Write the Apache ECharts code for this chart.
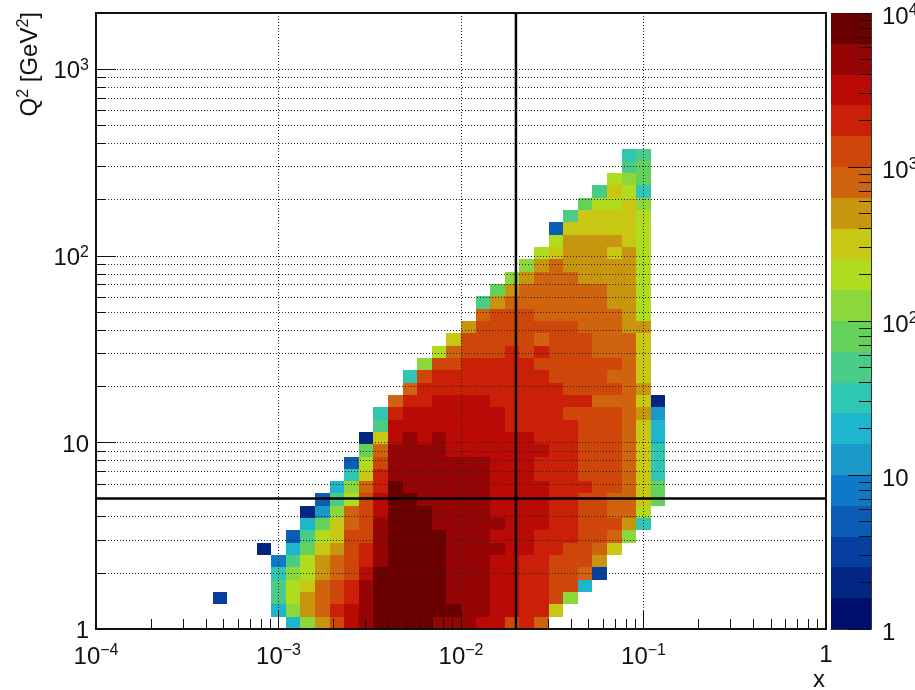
<!DOCTYPE html>
<html>
<head>
<meta charset="utf-8">
<style>html,body{margin:0;padding:0;background:#fff}#c{width:915px;height:690px}</style>
<script src="https://cdn.jsdelivr.net/npm/echarts@6/dist/echarts.min.js"></script>
</head>
<body>
<div id="c"></div>
<script>
// Histogram binning (50 x 50 log-spaced bins)
const xMin = 1e-4, xMax = 1, yMin = 1, yMax = 2000, nBins = 50;

// First occupied x bin of each Q2 row, bottom row first
const rowStart = [13,12,8,12,12,12,11,13,14,14,15,16,17,17,18,18,19,19,20,21,21,22,23,24,25,26,26,27,28,29,30,31,31,32,33,34,35,36,36];

// Counts per x bin, one list per Q2 row (null = empty bin)
const row00 = [20,126,501,1259,3162,5012,7943,7943,7943,7943,5012,5012,5012,3162,3162,1259,1995,794];
const row01 = [20,126,501,794,1995,3162,5012,7943,7943,7943,7943,7943,7943,5012,5012,3162,3162,1995,1995,316];
const row02 = [3,null,null,null,50,200,501,794,1259,1995,5012,7943,7943,7943,7943,7943,5012,5012,5012,3162,3162,1995,1995,1259,126];
const row03 = [50,200,316,794,1259,1995,5012,7943,7943,7943,7943,7943,5012,5012,5012,3162,3162,1995,1995,1259,1259,20];
const row04 = [32,126,200,501,794,1259,3162,7943,7943,7943,7943,7943,5012,5012,5012,3162,3162,1995,1995,1259,1259,794,3];
const row05 = [8,50,200,501,794,1259,1995,5012,7943,7943,7943,7943,5012,5012,5012,3162,3162,1995,1995,1259,1259,1259,501];
const row06 = [2,null,20,79,316,501,1259,1995,5012,7943,7943,7943,7943,5012,5012,5012,5012,3162,3162,1995,1995,1259,1259,794,316];
const row07 = [5,50,200,316,1259,1259,5012,7943,7943,7943,7943,5012,5012,5012,3162,3162,3162,1995,1995,1995,1259,1259,794,126];
const row08 = [20,79,316,794,1259,5012,7943,7943,7943,5012,5012,5012,5012,5012,3162,3162,3162,1995,1995,1259,1259,1259,501,32];
const row09 = [2,13,126,794,1259,3162,7943,7943,7943,5012,5012,5012,5012,3162,3162,3162,3162,1995,1995,1259,1259,794,794,200];
const row10 = [5,50,200,1259,3162,7943,7943,5012,5012,5012,5012,5012,3162,3162,3162,3162,1995,1995,1259,1259,794,794,316,79];
const row11 = [20,126,794,1995,7943,5012,5012,5012,5012,5012,5012,3162,3162,3162,3162,1995,1995,1995,1259,1259,794,316,79];
const row12 = [32,316,1995,5012,5012,5012,5012,5012,5012,5012,3162,3162,3162,1995,1995,1995,1259,1259,1259,794,316,32];
const row13 = [5,200,1259,5012,5012,5012,5012,5012,5012,5012,3162,3162,3162,1995,1995,1995,1259,1259,1259,794,316,32];
const row14 = [79,794,5012,5012,5012,5012,3162,3162,3162,3162,3162,3162,3162,1995,1995,1259,1259,1259,794,316,32];
const row15 = [2,316,3162,5012,3162,5012,3162,3162,3162,3162,3162,3162,1995,1995,1995,1259,1259,1259,794,316,20];
const row16 = [50,3162,3162,3162,3162,3162,3162,3162,3162,1995,1995,1995,1995,1995,1259,1259,1259,794,316,20];
const row17 = [32,1995,3162,3162,3162,3162,3162,3162,3162,1995,1995,1995,1995,1259,1259,1259,1259,794,501,13];
const row18 = [794,1995,1995,3162,3162,3162,3162,1995,1995,1995,1995,1995,1995,1995,794,794,794,316,2];
const row19 = [794,1995,1995,1995,1995,1995,1995,1995,1995,1995,1995,1259,1259,1259,1259,794,501];
const row20 = [32,1259,1995,1995,1995,1995,1995,1995,1995,1995,1259,1259,1259,1259,794,794,316];
const row21 = [126,1259,1259,1995,1995,1995,1995,1995,1259,1259,1259,1259,1259,1259,794,316];
const row22 = [200,794,1259,1259,1259,1995,1259,1995,1259,1259,1259,794,794,794,316];
const row23 = [316,1259,1259,1259,1259,1259,794,1259,1259,1259,794,794,794,316];
const row24 = [501,1259,1259,1259,1259,1259,1259,1259,794,794,794,501,501];
const row25 = [794,1259,1259,1259,794,794,794,794,794,794,501,200];
const row26 = [50,501,794,794,794,794,794,794,794,501,501,200];
const row27 = [79,501,794,794,794,794,794,794,501,501,200];
const row28 = [126,501,794,794,794,501,501,501,501,200];
const row29 = [126,501,794,501,501,501,501,501,200];
const row30 = [200,316,501,501,501,316,501,200];
const row31 = [200,501,501,501,501,316,200];
const row32 = [5,316,316,316,316,316,200];
const row33 = [50,316,316,316,316,200];
const row34 = [79,200,200,316,126];
const row35 = [50,316,200,32];
const row36 = [200,126,79];
const row37 = [50,79];
const row38 = [32,50];
const rows = [row00,row01,row02,row03,row04,row05,row06,row07,row08,row09,row10,row11,row12,row13,row14,row15,row16,row17,row18,row19,row20,row21,row22,row23,row24,row25,row26,row27,row28,row29,row30,row31,row32,row33,row34,row35,row36,row37,row38];

// Crosshair positions
const xCut = 0.02, q2Cut = 5;

// Axis ticks
const xMajorTicks = [1e-4,1e-3,1e-2,1e-1,1];
const xMajorLabels = ['{b|10}{s|\u22124}','{b|10}{s|\u22123}','{b|10}{s|\u22122}','{b|10}{s|\u22121}','{b|1}'];
const xMinorTicks = [2e-4,3e-4,4e-4,5e-4,6e-4,7e-4,8e-4,9e-4,2e-3,3e-3,4e-3,5e-3,6e-3,7e-3,8e-3,9e-3,2e-2,3e-2,4e-2,5e-2,6e-2,7e-2,8e-2,9e-2,0.2,0.3,0.4,0.5,0.6,0.7,0.8,0.9];
const yMajorTicks = [1,10,100,1000];
const yMajorLabels = ['{b|1}','{b|10}','{b|10}{s|2}','{b|10}{s|3}'];
const yMinorTicks = [2,3,4,5,6,7,8,9,20,30,40,50,60,70,80,90,200,300,400,500,600,700,800,900];
const zMajorTicks = [1,10,100,1000,10000];
const zMajorLabels = ['{b|1}','{b|10}','{b|10}{s|2}','{b|10}{s|3}','{b|10}{s|4}'];
const zMinorTicks = [2,3,4,5,6,7,8,9,20,30,40,50,60,70,80,90,200,300,400,500,600,700,800,900,2000,3000,4000,5000,6000,7000,8000,9000];

// Colour palette, lowest level first, with its level edges
const palette = ['#000f6e','#032684','#063fa0','#0a5cb4','#1078c8','#1a98c8','#1eb6cc','#2fc6b4','#4acc86','#64d25a','#8cd83c','#b0dc20','#c8c814','#c8960e','#d0640e','#cf460a','#cb2008','#b90a05','#950505','#6b0000'];
const paletteEdges = [1,1.585,2.512,3.981,6.31,10,15.85,25.12,39.81,63.1,100,158.5,251.2,398.1,631,1000,1585,2512,3981,6310,10000];

function colorOf(v){
  let i = paletteEdges.length - 2;
  while (i > 0 && v < paletteEdges[i]) i--;
  return palette[i];
}
const logX = (Math.log10(xMax) - Math.log10(xMin)) / nBins;
const logY = (Math.log10(yMax) - Math.log10(yMin)) / nBins;
const cells = [];
rows.forEach((row, j) => row.forEach((v, k) => {
  if (v == null) return;
  const i = rowStart[j] + k;
  const xl = Math.log10(xMin) + i * logX;
  cells.push([Math.pow(10, xl), Math.pow(10, xl + logX), Math.pow(10, j * logY), Math.pow(10, (j + 1) * logY), v]);
}));
const bands = palette.map((c, i) => [0, 1, paletteEdges[i], paletteEdges[i + 1], i]);

function rectFrom(api){
  const a = api.coord([api.value(0), api.value(2)]);
  const b = api.coord([api.value(1), api.value(3)]);
  const x = Math.round(a[0]), y = Math.round(b[1]);
  return { x, y, width: Math.round(b[0]) - x, height: Math.round(a[1]) - y };
}
const font = 'Liberation Sans';
const rich = {
  b: { fontFamily: font, fontSize: 24, color: '#111' },
  s: { fontFamily: font, fontSize: 16, color: '#111', padding: [0, 0, 12, 0] }
};
function labelled(ticks, labels){ return v => { const i = ticks.findIndex(t => Math.abs(t / v - 1) < 1e-6); return i < 0 ? '' : labels[i]; }; }
function logAxis(o){ return Object.assign({ type: 'log', logBase: 10, axisLine: { show: false, onZero: false }, splitLine: { show: false }, axisLabel: { show: false }, axisTick: { show: false }, z: 8 }, o); }
const tick = (len, vals, w) => ({ show: true, inside: true, length: len, customValues: vals, lineStyle: { color: '#111', width: w || 1 } });
const dots = { show: true, lineStyle: { type: [1, 2], color: '#222', width: 1 } };

const chart = echarts.init(document.getElementById('c'), null, { renderer: 'canvas' });
chart.setOption({
  animation: false,
  backgroundColor: '#fff',
  grid: [
    { left: 96, top: 13, width: 730, height: 616, show: true, borderColor: '#111', borderWidth: 2, backgroundColor: '#fff', outerBoundsMode: 'none' },
    { left: 831, top: 13, width: 40, height: 616, show: false, outerBoundsMode: 'none' }
  ],
  graphic: [{
    type: 'text', x: 30, y: 12, rotation: Math.PI / 2, z: 30, silent: true,
    style: { text: '{n|Q}{t|2}{n| [GeV}{t|2}{n|]}', align: 'right', verticalAlign: 'middle',
      rich: { n: { fontFamily: font, fontSize: 24, fill: '#111' }, t: { fontFamily: font, fontSize: 16, fill: '#111', padding: [0, 0, 12, 0] } } }
  }],
  xAxis: [
    logAxis({ gridIndex: 0, min: xMin, max: xMax, position: 'bottom',
      axisLine: { show: true, onZero: false, lineStyle: { color: '#111', width: 2 } },
      axisTick: tick(18, xMajorTicks),
      splitLine: dots,
      axisLabel: { show: true, customValues: xMajorTicks, formatter: labelled(xMajorTicks, xMajorLabels), margin: 14, rich, hideOverlap: false, showMinLabel: true, showMaxLabel: true },
      name: 'x', nameLocation: 'end', nameGap: 0,
      nameTextStyle: { fontFamily: font, fontSize: 24, color: '#111', align: 'center', verticalAlign: 'top', padding: [39, 14, 0, 0] } }),
    logAxis({ gridIndex: 0, min: xMin, max: xMax, position: 'bottom', axisTick: tick(10, xMinorTicks) }),
    { type: 'value', gridIndex: 1, min: 0, max: 1, show: true, axisLabel: { show: false }, axisTick: { show: false }, splitLine: { show: false },
      axisLine: { show: true, lineStyle: { color: '#333', width: 1 } } }
  ],
  yAxis: [
    logAxis({ gridIndex: 0, min: yMin, max: yMax, position: 'left',
      axisLine: { show: true, onZero: false, lineStyle: { color: '#111', width: 2 } },
      axisTick: tick(20, yMajorTicks),
      splitLine: dots,
      axisLabel: { show: true, customValues: yMajorTicks, formatter: labelled(yMajorTicks, yMajorLabels), margin: 7, padding: [5, 0, 0, 0], rich, hideOverlap: false, showMinLabel: true } }),
    logAxis({ gridIndex: 0, min: yMin, max: yMax, position: 'left', axisTick: tick(10, yMinorTicks), splitLine: dots }),
    logAxis({ gridIndex: 1, min: 1, max: 10000, position: 'right',
      axisLine: { show: true, onZero: false, lineStyle: { color: '#333', width: 1 } },
      axisTick: tick(23, zMajorTicks),
      axisLabel: { show: true, customValues: zMajorTicks, formatter: labelled(zMajorTicks, zMajorLabels), margin: 11, padding: [8, 0, 0, 0], rich, hideOverlap: false, align: 'left', showMinLabel: true, showMaxLabel: true } }),
    logAxis({ gridIndex: 1, min: 1, max: 10000, position: 'right', axisTick: tick(12, zMinorTicks) })
  ],
  series: [
    { type: 'custom', name: 'counts', xAxisIndex: 0, yAxisIndex: 0, data: cells, z: 2, silent: true,
      encode: { x: [0, 1], y: [2, 3] },
      renderItem: (p, api) => ({ type: 'rect', shape: rectFrom(api), style: { fill: colorOf(api.value(4)) } }) },
    { type: 'line', name: 'x cut', xAxisIndex: 0, yAxisIndex: 0, data: [[xCut, yMin], [xCut, yMax]], symbol: 'none', z: 20, silent: true,
      lineStyle: { color: '#000', width: 2.5 } },
    { type: 'line', name: 'Q2 cut', xAxisIndex: 0, yAxisIndex: 0, data: [[xMin, q2Cut], [xMax, q2Cut]], symbol: 'none', z: 20, silent: true,
      lineStyle: { color: '#000', width: 2.5 } },
    { type: 'custom', name: 'palette', xAxisIndex: 2, yAxisIndex: 2, data: bands, z: 2, silent: true,
      encode: { x: [0, 1], y: [2, 3] },
      renderItem: (p, api) => ({ type: 'rect', shape: rectFrom(api), style: { fill: palette[api.value(4)] } }) }
  ]
});
</script>
</body>
</html>
